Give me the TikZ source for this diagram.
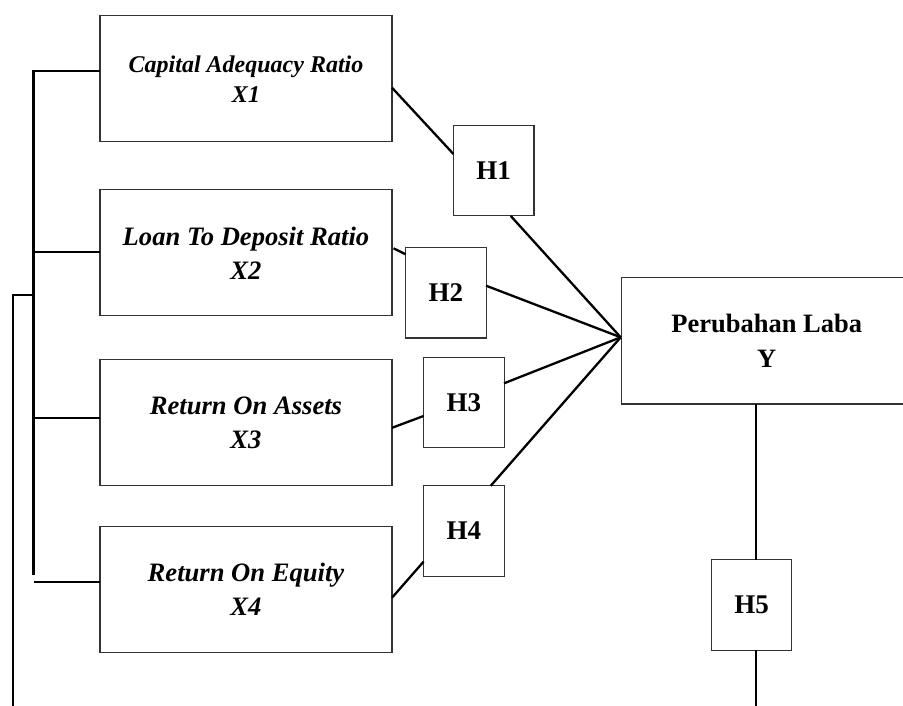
\documentclass[tikz,border=0pt]{standalone}
\usepackage{fontspec}
\setmainfont{Liberation Serif}
\begin{document}
\begin{tikzpicture}[x=1pt,y=-1pt,
  box/.style={draw=black!80,line width=1.1pt,fill=none,inner sep=0pt,outer sep=0pt,align=center},
  xbox/.style={box,minimum width=292pt,minimum height=126pt,font=\bfseries\itshape\fontsize{26.6}{34}\selectfont},
  hbox/.style={box,minimum width=80.5pt,minimum height=90.3pt,font=\bfseries\fontsize{27}{32}\selectfont},
  ybox/.style={box,minimum width=290pt,minimum height=126.3pt,font=\bfseries\fontsize{26.5}{35}\selectfont},
  conn/.style={draw=black,line width=2.3pt}]
\useasboundingbox (0,0) rectangle (903,706);
% variable boxes
\node[xbox,font=\bfseries\itshape\fontsize{24}{30}\selectfont] (x1) at (246,78.7) {Capital Adequacy Ratio\\X1};
\node[xbox] (x2) at (246,252.8) {Loan To Deposit Ratio\\X2};
\node[xbox] (x3) at (246,422.8) {Return On Assets\\X3};
\node[xbox] (x4) at (246,589.2) {Return On Equity\\X4};
% hypothesis boxes
\node[hbox] (h1) at (493.7,170.8) {H1};
\node[hbox] (h2) at (445.8,292.8) {H2};
\node[hbox] (h3) at (463.8,402.7) {H3};
\node[hbox] (h4) at (463.8,531) {H4};
\node[hbox] (h5) at (751.5,605) {H5};
% dependent variable
\node[ybox] (y) at (766.7,340.8) {Perubahan Laba\\Y};
% convergence point
\coordinate (conv) at ([shift={(-1,-3.5)}]y.west);
% X -> H -> Y connectors
\draw[conn] ([shift={(0,9)}]x1.east) -- ([shift={(0,-16.8)}]h1.west);
\draw[conn] ([shift={(17,0)}]h1.south) -- (conv);
\draw[conn] ([shift={(1.5,-4.5)}]x2.east) -- ([shift={(0,6.6)}]h2.north west);
\draw[conn] ([shift={(0,-7.1)}]h2.east) -- (conv);
\draw[conn] ([shift={(0,5)}]x3.east) -- ([shift={(0,13.3)}]h3.west);
\draw[conn] ([shift={(0,-19.4)}]h3.east) -- (conv);
\draw[conn] ([shift={(0,8.5)}]x4.east) -- ([shift={(0,30.7)}]h4.west);
\draw[conn] ([shift={(26.9,0)}]h4.north) -- (conv);
% Y -> H5
\coordinate (ya) at ([shift={(-11,0)}]y.south);
\coordinate (bot) at (0,706);
\draw[conn] (ya) -- (ya |- h5.north);
\draw[conn] (ya |- h5.south) -- (ya |- bot);
% left bus
\coordinate (bt) at (33.5,71.3);
\coordinate (bb) at (33.5,575);
\coordinate (j) at (33.5,295);
\coordinate (ot) at (13.3,295);
\coordinate (ob) at (13.3,706);
\draw[conn] ([shift={(0,-7.4)}]x1.west) -- (bt) -- (bb);
\draw[conn] ([shift={(0,-0.5)}]x2.west) -- ([shift={(0,-0.5)}]x2.west -| bt);
\draw[conn] ([shift={(0,-4.5)}]x3.west) -- ([shift={(0,-4.5)}]x3.west -| bt);
\coordinate (x4w) at ([shift={(0,-6.9)}]x4.west);
\draw[conn] (x4w) -- (x4w -| bt);
\draw[conn] (j) -- (ot) -- (ob);
\end{tikzpicture}
\end{document}
